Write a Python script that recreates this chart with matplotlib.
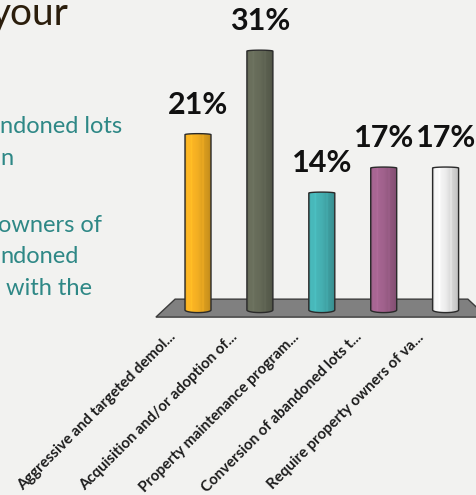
import numpy as np
import matplotlib
matplotlib.use("Agg")
import matplotlib.pyplot as plt
from matplotlib.path import Path
from matplotlib.patches import PathPatch, Polygon
from matplotlib import colors as mcolors

# ---- data -------------------------------------------------------------
categories = [
    "Aggressive and targeted demol...",
    "Acquisition and/or adoption of...",
    "Property maintenance program...",
    "Conversion of abandoned lots t...",
    "Require property owners of va...",
]
values = [21, 31, 14, 17, 17]
value_labels = ["21%", "31%", "14%", "17%", "17%"]
bar_colors = ["#f2ae22", "#656a58", "#45afb1", "#a0618c", "#ececec"]

# slide body text (left part of the slide)
title_fragment = "your"
body_lines = ["ndoned lots", "n", "owners of", "ndoned", " with the"]

# ---- figure / layout --------------------------------------------------
W, H = 477, 495
BG = "#f2f2f0"
fig = plt.figure(figsize=(W / 100, H / 100), dpi=100, facecolor=BG)

px_per_unit = 8.35      # vertical pixels per percentage point
zero_px = 310           # pixel row of the 0 % line
ymin, ymax = -2.4, 35
slot = 61.9             # pixels between bar centres
first_center = 198
xmin, xmax = -0.5, 4.5

bottom_px = zero_px - ymin * px_per_unit
top_px = zero_px - ymax * px_per_unit
left_px = first_center + xmin * slot
right_px = first_center + xmax * slot
ax = fig.add_axes([left_px / W, 1 - bottom_px / H,
                   (right_px - left_px) / W, (bottom_px - top_px) / H])
ax.set_xlim(xmin, xmax)
ax.set_ylim(ymin, ymax)
ax.axis("off")
ax.patch.set_alpha(0)

# ---- floor -------------------------------------------------------------
floor = Polygon([(-0.68, -0.85), (-0.37, 1.3), (4.36, 1.3), (4.67, -0.85)],
                closed=True, facecolor="#808080", edgecolor="#3c3c3c",
                linewidth=1.0, zorder=1, clip_on=False)
ax.add_patch(floor)

# ---- cylinders ---------------------------------------------------------
hw = 0.21                     # half width in category units
eh_bot = 2.6 / px_per_unit    # bottom ellipse depth
eh_top = 1.0 / px_per_unit    # top ellipse depth

shade_pos = [0.0, 0.06, 0.2, 0.24, 0.28, 0.5, 0.66, 0.7, 0.74, 0.9, 1.0]
shade_fac = [0.88, 1.06, 1.05, 1.12, 1.04, 1.0, 0.93, 1.0, 0.9, 0.85, 0.78]
ncol = 60
u = np.linspace(0, 1, ncol)
fac = np.interp(u, shade_pos, shade_fac)


def cylinder_path(xc, top):
    t_bot = np.linspace(np.pi, 2 * np.pi, 40)
    t_top = np.linspace(0, np.pi, 40)
    pts = [(xc - hw, top)]
    pts += list(zip(xc + hw * np.cos(t_bot), eh_bot * np.sin(t_bot)))
    pts += list(zip(xc + hw * np.cos(t_top), top + eh_top * np.sin(t_top)))
    pts.append((xc - hw, top))
    codes = [Path.MOVETO] + [Path.LINETO] * (len(pts) - 2) + [Path.CLOSEPOLY]
    return Path(pts, codes)


for i, (v, c) in enumerate(zip(values, bar_colors)):
    base = np.array(mcolors.to_rgb(c))
    grad = np.clip(base[None, :] * fac[:, None], 0, 1)[None, :, :]
    outline = PathPatch(cylinder_path(i, v), facecolor="none",
                        edgecolor="#2a2a2a", linewidth=1.0, zorder=4)
    ax.add_patch(outline)
    im = ax.imshow(grad, extent=(i - hw, i + hw, -eh_bot, v + eh_top),
                   aspect="auto", interpolation="bilinear", zorder=3)
    im.set_clip_path(outline)

    ax.annotate(value_labels[i], xy=(i, v), xytext=(0, 15),
                textcoords="offset points", ha="center", va="baseline",
                fontsize=22, fontweight="bold", family="Lato", color="#111111")

    ax.annotate(categories[i], xy=(i, 0), xytext=(-17.5, -18),
                textcoords="offset points", rotation=45,
                rotation_mode="anchor", ha="right", va="center",
                fontsize=10.8, fontweight="bold", family="Lato",
                color="#1c1c1c", annotation_clip=False)

# ---- slide text on the left -------------------------------------------
fig.text(-9 / W, 1 - 25 / H, title_fragment, fontsize=28, family="Lato",
         color="#2b1e0c", ha="left", va="baseline")

body_x = [0, 0, -2, 0, 0]
body_base = [133, 165, 232, 263, 295]
for s, x, y in zip(body_lines, body_x, body_base):
    fig.text(x / W, 1 - y / H, s, fontsize=17, family="Lato",
             color="#2e8886", ha="left", va="baseline")

fig.savefig("out.png", dpi=100, facecolor=BG)
